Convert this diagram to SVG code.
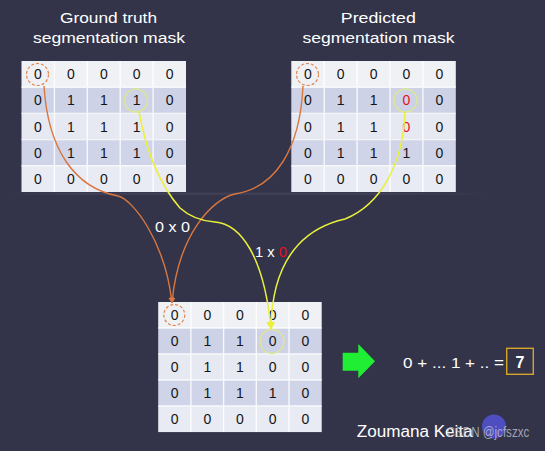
<svg xmlns="http://www.w3.org/2000/svg" width="545" height="451" viewBox="0 0 545 451">
<defs>
<style>
.t{font-family:"Liberation Sans",Arial,sans-serif;fill:#ffffff}
.title{font-size:15.5px;text-anchor:middle}
.lbl{font-size:15px}
.d{font-family:"Liberation Sans",Arial,sans-serif;font-size:14px;fill:#151515;text-anchor:middle}
.red{fill:#e5131b}
.r0{fill:#f0f1f5}.r1{fill:#cdd2e6}.r2{fill:#e6e8f2}.r3{fill:#cfd4e8}.r4{fill:#e8eaf4}
.gl{stroke:#ffffff;stroke-width:1.4;opacity:.85;fill:none}
.oc{fill:none;stroke:#e0844a;stroke-width:1.2;stroke-dasharray:3 2}
.yc{fill:none;stroke:#dfe98a;stroke-width:1.5;opacity:.85}
.oline{fill:none;stroke:#d9773f;stroke-width:1.4}
.yline{fill:none;stroke:#eaf03a;stroke-width:1.5}
</style>
<g id="gridbg">
<rect class="r0" x="0" y="0" width="164.5" height="26.2"/>
<rect class="r1" x="0" y="26.2" width="164.5" height="26.2"/>
<rect class="r2" x="0" y="52.4" width="164.5" height="26.2"/>
<rect class="r3" x="0" y="78.6" width="164.5" height="26.2"/>
<rect class="r4" x="0" y="104.8" width="164.5" height="26.2"/>
<path class="gl" d="M32.9,0V131M65.8,0V131M98.7,0V131M131.6,0V131M0,26.2H164.5M0,52.4H164.5M0,78.6H164.5M0,104.8H164.5"/>
</g>
<marker id="arrO" markerUnits="userSpaceOnUse" viewBox="0 0 10 10" refX="9" refY="5" markerWidth="6" markerHeight="6" orient="auto">
<path d="M0,0L10,5L0,10z" fill="#d9773f"/>
</marker>
<marker id="arrY" markerUnits="userSpaceOnUse" viewBox="0 0 10 10" refX="9" refY="5" markerWidth="8" markerHeight="8" orient="auto">
<path d="M0,0L10,5L0,10z" fill="#eaf03a"/>
</marker>
<linearGradient id="shine" x1="0" x2="1" y1="0" y2="0">
<stop offset="0" stop-color="#4a4b62" stop-opacity="0"/>
<stop offset="0.15" stop-color="#4a4b62" stop-opacity="0.5"/>
<stop offset="0.8" stop-color="#4a4b62" stop-opacity="0.5"/>
<stop offset="1" stop-color="#4a4b62" stop-opacity="0"/>
</linearGradient>
</defs>

<rect x="0" y="0" width="545" height="451" fill="#33344a"/>
<rect x="5" y="192.5" width="485" height="2.5" fill="url(#shine)"/>

<g id="titles">
<text class="t title" x="108.5" y="23.3" textLength="97" lengthAdjust="spacingAndGlyphs">Ground truth</text>
<text class="t title" x="109" y="43.3" textLength="152" lengthAdjust="spacingAndGlyphs">segmentation mask</text>
<text class="t title" x="378.3" y="23.3" textLength="75" lengthAdjust="spacingAndGlyphs">Predicted</text>
<text class="t title" x="378.5" y="43.3" textLength="152" lengthAdjust="spacingAndGlyphs">segmentation mask</text>
</g>

<g id="gt-mask">
<use href="#gridbg" x="21.5" y="61"/>
<text class="d" x="38 70.9 103.8 136.7 169.6" y="79.1">00000</text>
<text class="d" x="38 70.9 103.8 136.7 169.6" y="105.3">01110</text>
<text class="d" x="38 70.9 103.8 136.7 169.6" y="131.5">01110</text>
<text class="d" x="38 70.9 103.8 136.7 169.6" y="157.7">01110</text>
<text class="d" x="38 70.9 103.8 136.7 169.6" y="183.9">00000</text>
<circle class="oc" cx="37.5" cy="74.5" r="11"/>
<circle class="yc" cx="136" cy="100.5" r="11.5"/>
</g>

<g id="pred-mask">
<use href="#gridbg" x="291.3" y="61"/>
<text class="d" x="307.8 340.7 373.6 406.5 439.4" y="79.1">00000</text>
<text class="d" x="307.8 340.7 373.6 406.5 439.4" y="105.3">011<tspan class="red">0</tspan>0</text>
<text class="d" x="307.8 340.7 373.6 406.5 439.4" y="131.5">011<tspan class="red">0</tspan>0</text>
<text class="d" x="307.8 340.7 373.6 406.5 439.4" y="157.7">01110</text>
<text class="d" x="307.8 340.7 373.6 406.5 439.4" y="183.9">00000</text>
<circle class="oc" cx="307.5" cy="74.5" r="11"/>
<circle class="yc" cx="405.5" cy="100.5" r="11.5"/>
</g>

<g id="result-mask">
<use href="#gridbg" x="158.2" y="302" transform="translate(158.2 302) scale(0.994 0.993) translate(-158.2 -302)"/>
<text class="d" x="174.6 207.3 240 272.7 305.4" y="320">00000</text>
<text class="d" x="174.6 207.3 240 272.7 305.4" y="346">01100</text>
<text class="d" x="174.6 207.3 240 272.7 305.4" y="372">01100</text>
<text class="d" x="174.6 207.3 240 272.7 305.4" y="398">01110</text>
<text class="d" x="174.6 207.3 240 272.7 305.4" y="424">00000</text>
<circle class="oc" cx="174.3" cy="315" r="10.5"/>
<circle class="yc" cx="272" cy="341.5" r="12"/>
</g>

<g id="connectors">
<path class="oline" d="M44,86 C48,150 75,188 118,196 C132,199 165,240 172,303" marker-end="url(#arrO)"/>
<path class="oline" d="M303,86 C300,150 275,188 235,194 C212,199 178,235 172,303" marker-end="url(#arrO)"/>
<path class="yline" d="M139,112 C146,150 160,185 180,208 C190,217 200,221 215,222 C240,224 264,255 271,329" marker-end="url(#arrY)"/>
<path class="yline" d="M405,112 C403,165 380,205 345,219 C318,225 272,245 271,329" marker-end="url(#arrY)"/>
</g>

<g id="labels">
<text class="t lbl" x="155" y="231.7" textLength="35" lengthAdjust="spacingAndGlyphs">0 x 0</text>
<text class="t lbl" x="255" y="257.3" textLength="32" lengthAdjust="spacingAndGlyphs">1 x <tspan class="red">0</tspan></text>
</g>

<g id="sum">
<path d="M342.7,352.7H358.3V344L375,361.2L358.3,378.3V370.7H342.7z" fill="#1fee35"/>
<text class="t lbl" x="403" y="368.3" textLength="101" lengthAdjust="spacingAndGlyphs">0 + ... 1 + ..  =</text>
<rect x="506.7" y="348.3" width="26.6" height="26" fill="none" stroke="#d8a428" stroke-width="1.4"/>
<text class="t" x="520" y="367.5" font-size="16" font-weight="bold" text-anchor="middle">7</text>
</g>

<g id="credit">
<text class="t" x="356.7" y="436.7" font-size="16" textLength="116" lengthAdjust="spacingAndGlyphs">Zoumana Keita</text>
<circle cx="494" cy="426.5" r="12" fill="#5454d6" opacity="0.85"/>
<text x="446.7" y="437" font-family="'Liberation Sans',Arial,sans-serif" font-size="14" fill="#c8c8d0" fill-opacity="0.75" textLength="82.6" lengthAdjust="spacingAndGlyphs">CSDN @jcfszxc</text>
</g>
</svg>
